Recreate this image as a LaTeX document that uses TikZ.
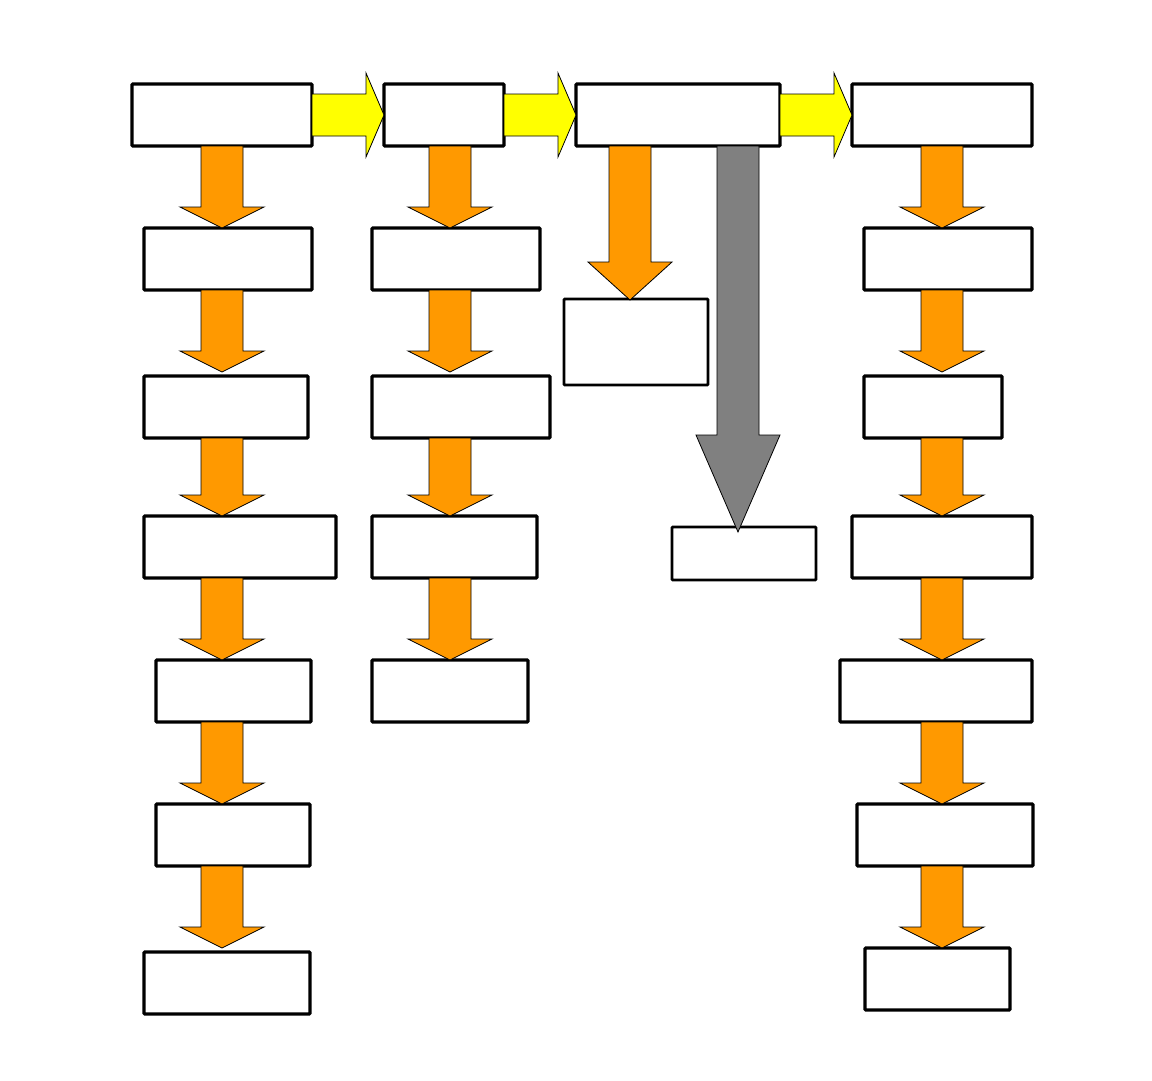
\documentclass[tikz,border=0pt]{standalone}
\usetikzlibrary{calc}
\definecolor{orng}{RGB}{255,153,0}
\definecolor{yel}{RGB}{255,255,0}
\definecolor{gry}{RGB}{128,128,128}
\tikzset{
  box/.style={draw=black, line width=3.2pt, fill=white, inner sep=0pt, outer sep=0pt, rounded corners=0.8pt},
  oarrow/.style={draw=black, line width=0.8pt, fill=orng, line join=miter},
  yarrow/.style={draw=black, line width=0.8pt, fill=yel, line join=miter},
  garrow/.style={draw=black, line width=0.8pt, fill=gry, line join=miter}
}
% vertical block arrow: #1 column coordinate, #2 from node, #3 to node, #4 head length, #5 style, #6 tip offset
\newcommand\vblk[6]{%
  \coordinate (tipc) at ($(#1 |- #3.north)+(0,#6)$);
  \draw[#5] ($(#1 |- #2.south)+(-21,0)$) -- ($(#1 |- #2.south)+(21,0)$)
    -- ($(tipc)+(21,-#4)$) -- ($(tipc)+(42,-#4)$)
    -- (tipc)
    -- ($(tipc)+(-42,-#4)$) -- ($(tipc)+(-21,-#4)$) -- cycle;}
% horizontal block arrow: #1 from node, #2 to node
\newcommand\hblk[2]{%
  \draw[yarrow] ($(#1.east)+(0,-21)$) -- ($(#2.west)+(-18,-21)$) -- ($(#2.west)+(-18,-42)$)
    -- (#2.west) -- ($(#2.west)+(-18,42)$) -- ($(#2.west)+(-18,21)$) -- ($(#1.east)+(0,21)$) -- cycle;}
\begin{document}
\begin{tikzpicture}[x=1pt,y=-1pt]
\useasboundingbox (0,0) rectangle (1152,1080);
% column coordinates
\coordinate (x1) at (222,0);
\coordinate (x2) at (450,0);
\coordinate (x3o) at (630,0);
\coordinate (x3g) at (738,0);
\coordinate (x4) at (942,0);
% column 1
\node[box, minimum width=180pt, minimum height=62pt] (a1) at (222,115) {};
\node[box, minimum width=168pt, minimum height=62pt] (a2) at (228,259) {};
\node[box, minimum width=164pt, minimum height=62pt] (a3) at (226,407) {};
\node[box, minimum width=192pt, minimum height=62pt] (a4) at (240,547) {};
\node[box, minimum width=155pt, minimum height=62pt] (a5) at (233.5,691) {};
\node[box, minimum width=154pt, minimum height=62pt] (a6) at (233,835) {};
\node[box, minimum width=166pt, minimum height=62pt] (a7) at (227,983) {};
% column 2
\node[box, minimum width=120pt, minimum height=62pt] (b1) at (444,115) {};
\node[box, minimum width=168pt, minimum height=62pt] (b2) at (456,259) {};
\node[box, minimum width=178pt, minimum height=62pt] (b3) at (461,407) {};
\node[box, minimum width=165pt, minimum height=62pt] (b4) at (454.5,547) {};
\node[box, minimum width=156pt, minimum height=62pt] (b5) at (450,691) {};
% column 3
\node[box, minimum width=204pt, minimum height=62pt] (c1) at (678,115) {};
\node[box, line width=2.6pt, minimum width=144pt, minimum height=86pt] (c2) at (636,342) {};
\node[box, line width=2.6pt, minimum width=144pt, minimum height=53pt] (c3) at (744,553.5) {};
% column 4
\node[box, minimum width=180pt, minimum height=62pt] (d1) at (942,115) {};
\node[box, minimum width=168pt, minimum height=62pt] (d2) at (948,259) {};
\node[box, minimum width=138pt, minimum height=62pt] (d3) at (933,407) {};
\node[box, minimum width=180pt, minimum height=62pt] (d4) at (942,547) {};
\node[box, minimum width=192pt, minimum height=62pt] (d5) at (936,691) {};
\node[box, minimum width=176pt, minimum height=62pt] (d6) at (945,835) {};
\node[box, minimum width=145pt, minimum height=62pt] (d7) at (937.5,979) {};
% horizontal arrows
\hblk{a1}{b1}
\hblk{b1}{c1}
\hblk{c1}{d1}
% column 1 arrows
\vblk{x1}{a1}{a2}{21}{oarrow}{0}
\vblk{x1}{a2}{a3}{21}{oarrow}{-4}
\vblk{x1}{a3}{a4}{21}{oarrow}{0}
\vblk{x1}{a4}{a5}{21}{oarrow}{0}
\vblk{x1}{a5}{a6}{21}{oarrow}{0}
\vblk{x1}{a6}{a7}{21}{oarrow}{-4}
% column 2 arrows
\vblk{x2}{b1}{b2}{21}{oarrow}{0}
\vblk{x2}{b2}{b3}{21}{oarrow}{-4}
\vblk{x2}{b3}{b4}{21}{oarrow}{0}
\vblk{x2}{b4}{b5}{21}{oarrow}{0}
% column 3 arrows
\vblk{x3o}{c1}{c2}{38}{oarrow}{1}
\vblk{x3g}{c1}{c3}{97}{garrow}{5}
% column 4 arrows
\vblk{x4}{d1}{d2}{21}{oarrow}{0}
\vblk{x4}{d2}{d3}{21}{oarrow}{-4}
\vblk{x4}{d3}{d4}{21}{oarrow}{0}
\vblk{x4}{d4}{d5}{21}{oarrow}{0}
\vblk{x4}{d5}{d6}{21}{oarrow}{0}
\vblk{x4}{d6}{d7}{21}{oarrow}{0}
\end{tikzpicture}
\end{document}
